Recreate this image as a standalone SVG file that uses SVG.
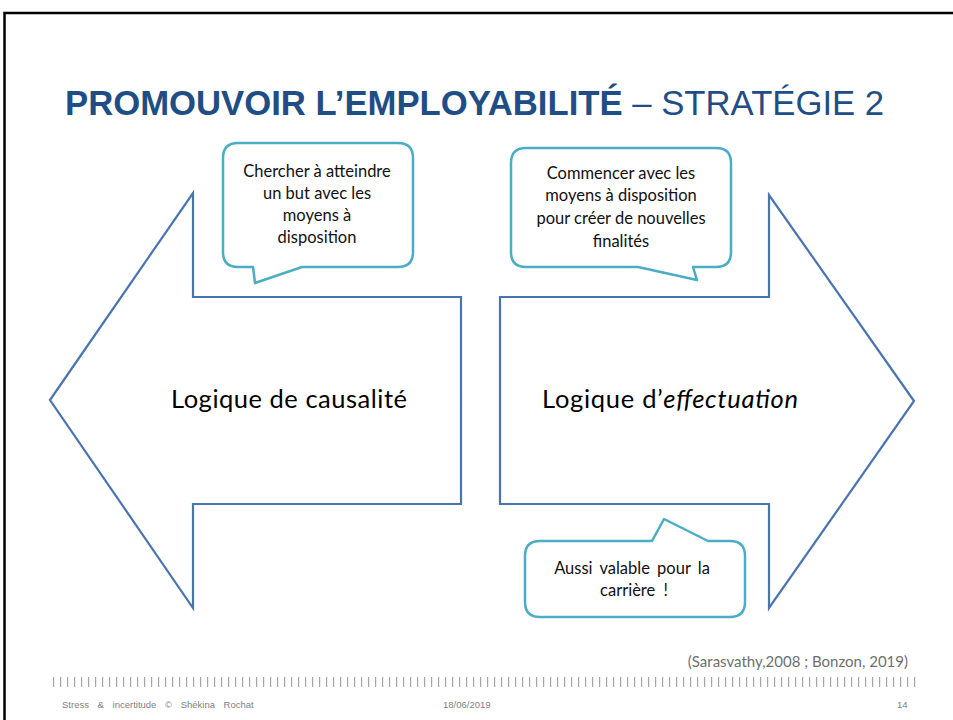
<svg xmlns="http://www.w3.org/2000/svg" width="953" height="720" viewBox="0 0 953 720">
<style>
.arrow{fill:#fff;stroke:#4A74B0;stroke-width:2.2;stroke-linejoin:miter}
.callout{fill:#fff;stroke:#4BACC6;stroke-width:2.5;stroke-linejoin:round}
.ct{font-family:Lato,"Open Sans","Liberation Sans",sans-serif;font-size:16.5px;fill:#111;text-anchor:middle}
.main{font-family:Lato,"Open Sans","Liberation Sans",sans-serif;font-size:25.5px;fill:#000}
.title{font-family:"Liberation Sans",Arial,sans-serif;font-size:34.7px;fill:#1F4E86}
.foot{font-family:"Liberation Sans Narrow","Liberation Sans",Arial,sans-serif;font-size:9.5px;fill:#7f7f7f}
</style>
<rect x="0" y="0" width="953" height="720" fill="#fff"/>
<rect x="4.5" y="13" width="960" height="730" fill="none" stroke="#000" stroke-width="2.5"/>
<g id="title">
<text class="title" x="65" y="115"><tspan font-weight="bold">PROMOUVOIR L’EMPLOYABILITÉ</tspan><tspan> – STRATÉGIE 2</tspan></text>
</g>
<g id="connectors">
<polygon id="arrow-left" class="arrow" points="50,400 193,193 193,297 461,297 461,504 193,504 193,608"/>
<polygon id="arrow-right" class="arrow" points="914,401 769,195 769,297 500,297 500,504 769,504 769,608"/>
</g>
<g id="node-causalite">
<text class="main" x="171" y="408" textLength="236">Logique de causalité</text>
</g>
<g id="node-effectuation">
<text class="main" x="542" y="408" textLength="256">Logique d’<tspan font-style="italic">effectuation</tspan></text>
</g>
<g id="callout-left">
<path class="callout" d="M238,143 H398 Q413,143 413,158 V252 Q413,267 398,267 H302 L255,283 L253,267 H238 Q223,267 223,252 V158 Q223,143 238,143 Z"/>
<text class="ct" x="317" y="177">Chercher à atteindre</text>
<text class="ct" x="317" y="199">un but avec les</text>
<text class="ct" x="317" y="221">moyens à</text>
<text class="ct" x="317" y="243">disposition</text>
</g>
<g id="callout-right">
<path class="callout" d="M526,148 H716 Q731,148 731,163 V252 Q731,267 716,267 H693 L697,280 L638,267 H526 Q511,267 511,252 V163 Q511,148 526,148 Z"/>
<text class="ct" x="621" y="179" font-size="15.5">Commencer avec les</text>
<text class="ct" x="621" y="201" font-size="15.5">moyens à disposition</text>
<text class="ct" x="621" y="224" font-size="15.5">pour créer de nouvelles</text>
<text class="ct" x="621" y="247" font-size="15.5">finalités</text>
</g>
<g id="callout-bottom">
<path class="callout" d="M540,541 H652 L664,519 L708,541 H730 Q745,541 745,556 V602 Q745,617 730,617 H540 Q525,617 525,602 V556 Q525,541 540,541 Z"/>
<text class="ct" x="632" y="574" font-size="16.5" word-spacing="3">Aussi valable pour la</text>
<text class="ct" x="634" y="596" font-size="16.5" word-spacing="4">carrière !</text>
</g>
<g id="footer">
<text x="908" y="667" text-anchor="end" font-family="Lato,'Open Sans','Liberation Sans',sans-serif" font-size="15" fill="#6f6f6f">(Sarasvathy,2008 ; Bonzon, 2019)</text>
<line x1="53" y1="682" x2="916" y2="682" stroke="#a6a6a6" stroke-width="10" stroke-dasharray="1.2 5.8"/>
<text class="foot" x="62" y="708" font-size="10" word-spacing="6">Stress &amp; incertitude © Shékina Rochat</text>
<text class="foot" x="443" y="708">18/06/2019</text>
<text class="foot" x="897" y="708">14</text>
</g>
</svg>
